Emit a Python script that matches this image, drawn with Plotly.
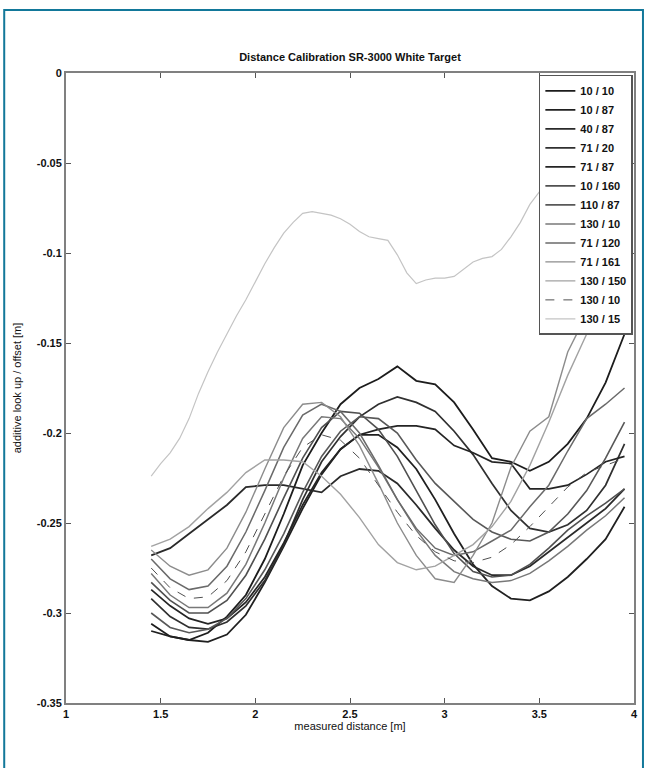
import plotly.graph_objects as go

# measured distance [m] sampling of the calibration runs
dist = [1.45, 1.55, 1.65, 1.75, 1.85, 1.95, 2.05, 2.15, 2.25, 2.35, 2.45, 2.55, 2.65,
        2.75, 2.85, 2.95, 3.05, 3.15, 3.25, 3.35, 3.45, 3.55, 3.65, 3.75, 3.85, 3.95]

# finer sampling used by the 130 / 15 run
dist_fine = [1.45, 1.50, 1.55, 1.60, 1.65, 1.70, 1.75, 1.80, 1.85, 1.90, 1.95, 2.00, 2.05,
             2.10, 2.15, 2.20, 2.25, 2.30, 2.35, 2.40, 2.45, 2.50, 2.55, 2.60, 2.65, 2.70,
             2.75, 2.80, 2.85, 2.90, 2.95, 3.00, 3.05, 3.10, 3.15, 3.20, 3.25, 3.30, 3.35,
             3.40, 3.45, 3.50, 3.55, 3.60]

labels = ["10 / 10", "10 / 87", "40 / 87", "71 / 20", "71 / 87", "10 / 160", "110 / 87",
          "130 / 10", "71 / 120", "71 / 161", "130 / 150", "130 / 10", "130 / 15"]

off_10_10 = [-0.306, -0.313, -0.315, -0.311, -0.302, -0.290, -0.270, -0.245, -0.218, -0.200,
             -0.184, -0.175, -0.170, -0.163, -0.171, -0.173, -0.183, -0.198, -0.214, -0.216,
             -0.221, -0.216, -0.206, -0.192, -0.172, -0.145]
off_10_87 = [-0.310, -0.313, -0.315, -0.316, -0.312, -0.301, -0.283, -0.263, -0.242, -0.223,
             -0.209, -0.201, -0.201, -0.208, -0.220, -0.237, -0.256, -0.273, -0.285, -0.292,
             -0.293, -0.288, -0.280, -0.270, -0.259, -0.241]
off_40_87 = [-0.268, -0.264, -0.256, -0.248, -0.240, -0.230, -0.229, -0.229, -0.231, -0.233,
             -0.224, -0.220, -0.221, -0.228, -0.240, -0.253, -0.265, -0.274, -0.279, -0.279,
             -0.274, -0.266, -0.258, -0.250, -0.242, -0.231]
off_71_20 = [-0.292, -0.302, -0.308, -0.309, -0.305, -0.296, -0.282, -0.262, -0.237, -0.216,
             -0.202, -0.191, -0.184, -0.180, -0.183, -0.188, -0.199, -0.212, -0.228, -0.243,
             -0.253, -0.255, -0.251, -0.243, -0.229, -0.206]
off_71_87 = [-0.287, -0.296, -0.303, -0.306, -0.303, -0.294, -0.280, -0.261, -0.240, -0.222,
             -0.209, -0.201, -0.198, -0.196, -0.196, -0.198, -0.207, -0.211, -0.216, -0.217,
             -0.231, -0.231, -0.229, -0.223, -0.216, -0.213]
off_10_160 = [-0.283, -0.293, -0.300, -0.300, -0.293, -0.279, -0.259, -0.236, -0.214, -0.197,
              -0.188, -0.189, -0.198, -0.213, -0.232, -0.251, -0.267, -0.277, -0.280, -0.279,
              -0.273, -0.264, -0.254, -0.246, -0.239, -0.231]
off_110_87 = [-0.300, -0.308, -0.311, -0.309, -0.303, -0.292, -0.276, -0.256, -0.233, -0.213,
              -0.199, -0.191, -0.192, -0.200, -0.215, -0.228, -0.238, -0.248, -0.255, -0.259,
              -0.260, -0.255, -0.245, -0.232, -0.214, -0.194]
off_130_10 = [-0.278, -0.290, -0.297, -0.297, -0.289, -0.273, -0.250, -0.225, -0.203, -0.191,
              -0.192, -0.203, -0.219, -0.237, -0.254, -0.268, -0.277, -0.281, -0.283, -0.282,
              -0.278, -0.271, -0.263, -0.254, -0.246, -0.236]
off_71_120 = [-0.270, -0.281, -0.287, -0.285, -0.274, -0.255, -0.232, -0.208, -0.190, -0.184,
              -0.188, -0.200, -0.218, -0.237, -0.253, -0.264, -0.268, -0.266, -0.260, -0.254,
              -0.241, -0.229, -0.210, -0.192, -0.184, -0.175]
off_71_161 = [-0.265, -0.274, -0.279, -0.276, -0.264, -0.244, -0.220, -0.197, -0.184, -0.183,
              -0.191, -0.207, -0.228, -0.250, -0.268, -0.281, -0.283, -0.268, -0.250, -0.219,
              -0.199, -0.191, -0.155, -0.134, -0.120, -0.100]
off_130_150 = [-0.263, -0.259, -0.252, -0.242, -0.233, -0.222, -0.215, -0.215, -0.216, -0.224,
               -0.234, -0.247, -0.262, -0.272, -0.276, -0.274, -0.268, -0.262, -0.252, -0.238,
               -0.218, -0.194, -0.168, -0.145, -0.126, -0.110]
off_130_10b = [-0.275, -0.286, -0.292, -0.291, -0.282, -0.266, -0.245, -0.224, -0.208, -0.201,
               -0.204, -0.214, -0.229, -0.244, -0.257, -0.266, -0.271, -0.272, -0.269, -0.262,
               -0.252, -0.241, -0.230, -0.222, -0.218, -0.214]
off_130_15 = [-0.224, -0.217, -0.211, -0.203, -0.192, -0.178, -0.166, -0.155, -0.145, -0.135,
              -0.126, -0.116, -0.106, -0.097, -0.089, -0.083, -0.078, -0.077, -0.078, -0.079,
              -0.081, -0.084, -0.088, -0.091, -0.092, -0.093, -0.101, -0.111, -0.117, -0.115,
              -0.114, -0.114, -0.113, -0.109, -0.105, -0.103, -0.102, -0.098, -0.091, -0.083,
              -0.073, -0.066, -0.060, -0.055]

x_ticks = [1, 1.5, 2, 2.5, 3, 3.5, 4]
x_tick_text = ["1", "1.5", "2", "2.5", "3", "3.5", "4"]
y_ticks = [0, -0.05, -0.1, -0.15, -0.2, -0.25, -0.3, -0.35]
y_tick_text = ["0", "-0.05", "-0.1", "-0.15", "-0.2", "-0.25", "-0.3", "-0.35"]

series = [off_10_10, off_10_87, off_40_87, off_71_20, off_71_87, off_10_160, off_110_87,
          off_130_10, off_71_120, off_71_161, off_130_150, off_130_10b, off_130_15]

# grey levels go from dark to light in legend order
colors = ["#1c1c1c", "#202020", "#2a2a2a", "#303030", "#242424", "#505050", "#585858",
          "#787878", "#6a6a6a", "#8c8c8c", "#a2a2a2", "#505050", "#c4c4c4"]
widths = [1.8, 1.8, 1.8, 1.7, 1.7, 1.6, 1.6, 1.5, 1.5, 1.4, 1.4, 1.0, 1.2]
dashes = ["solid"] * 11 + ["dash", "solid"]

FONT = "Liberation Sans, Arial, sans-serif"

fig = go.Figure()
for i, (name, ys) in enumerate(zip(labels, series)):
    xs = dist_fine if ys is off_130_15 else dist
    fig.add_trace(go.Scatter(
        x=xs, y=ys, mode="lines", name=name,
        line=dict(color=colors[i], width=widths[i], dash=dashes[i]),
    ))

axis_common = dict(
    showline=True, linecolor="#808080", linewidth=2, mirror="ticks",
    ticks="inside", ticklen=5, tickwidth=1, tickcolor="#555555",
    showgrid=False, zeroline=False,
    tickfont=dict(family=FONT, size=11, color="#111111", weight="bold"),
)

fig.update_layout(
    width=650, height=768,
    margin=dict(l=66, r=14, t=73, b=65),
    paper_bgcolor="white", plot_bgcolor="white",
    title=dict(text="Distance Calibration SR-3000 White Target",
               x=0.5, xref="paper", xanchor="center", y=1 - 57 / 768, yanchor="middle",
               font=dict(family=FONT, size=11, color="#111111", weight="bold")),
    xaxis=dict(range=[1, 4], tickvals=x_ticks, ticktext=x_tick_text,
               title=dict(text="measured distance [m]", standoff=2,
                          font=dict(family=FONT, size=11, color="#111111")),
               **axis_common),
    yaxis=dict(range=[-0.35, 0], tickvals=y_ticks, ticktext=y_tick_text,
               title=dict(text="additive look up / offset [m]", standoff=13,
                          font=dict(family=FONT, size=11, color="#111111")),
               **axis_common),
    legend=dict(x=0.998, xanchor="right", y=0.997, yanchor="top",
                bgcolor="white", bordercolor="#555555", borderwidth=1.5,
                font=dict(family=FONT, size=11, color="#111111", weight="bold"),
                tracegroupgap=0, itemwidth=30),
    showlegend=True,
    shapes=[dict(type="rect", xref="paper", yref="paper",
                 x0=(4 - 66) / 570, x1=(645 - 66) / 570,
                 y0=(703 - 790) / 630, y1=(703 - 10) / 630,
                 line=dict(color="#12789a", width=2), fillcolor="rgba(0,0,0,0)",
                 layer="below")],
)

fig.write_html("out.html")
